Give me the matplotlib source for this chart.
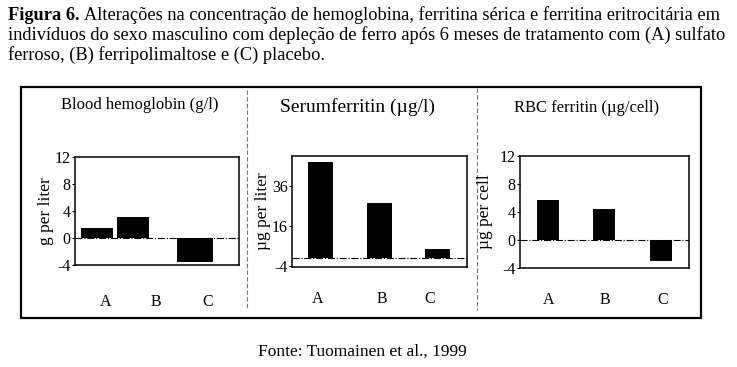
import matplotlib.pyplot as plt
from matplotlib.patches import Rectangle
from matplotlib.lines import Line2D

# data
groups = ['A', 'B', 'C']
hemoglobin = [1.5, 3.1, -3.6]        # g/l
serum_ferritin = [48, 27.5, 4.5]     # ug/l
rbc_ferritin = [5.7, 4.4, -3.0]      # ug/cell

titles = ['Blood hemoglobin (g/l)', 'Serumferritin (µg/l)', 'RBC ferritin (µg/cell)']
ylabels = ['g per liter', 'µg per liter', 'µg per cell']
yticks = [[-4, 0, 4, 8, 12], [-4, 16, 36], [-4, 0, 4, 8, 12]]
ylims = [(-4, 12), (-4.5, 51), (-4, 12)]

caption = ['Alterações na concentração de hemoglobina, ferritina sérica e ferritina eritrocitária em',
           'indivíduos do sexo masculino com depleção de ferro após 6 meses de tratamento com (A) sulfato',
           'ferroso, (B) ferripolimaltose e (C) placebo.']
source = 'Fonte: Tuomainen et al., 1999'

W, H = 737, 367
SERIF = 'Liberation Serif'

def rect(l, t, r, b):
    return [l / W, 1 - b / H, (r - l) / W, (b - t) / H]

fig = plt.figure(figsize=(W / 100, H / 100), dpi=100)
fig.patch.set_facecolor('white')

# caption
renderer = fig.canvas.get_renderer()
capsize = 13.2
lab = fig.text(8 / W, 1 - 15 / H, 'Figura 6.', fontsize=capsize, family=SERIF,
               weight='bold', va='center', ha='left')
bb = lab.get_window_extent(renderer)
fig.text((bb.x1 + 5) / W, 1 - 15 / H, caption[0], fontsize=capsize, family=SERIF,
         va='center', ha='left')
fig.text(8 / W, 1 - 35 / H, caption[1], fontsize=capsize, family=SERIF, va='center', ha='left')
fig.text(8 / W, 1 - 55 / H, caption[2], fontsize=capsize, family=SERIF, va='center', ha='left')

# outer frame and separators
fig.add_artist(Rectangle((21 / W, 1 - 318 / H), 680 / W, 231 / H, transform=fig.transFigure,
                         fill=False, lw=1.6, ec='black'))
for xs, y0 in [(247, 90), (477, 88)]:
    fig.add_artist(Line2D([xs / W, xs / W], [1 - y0 / H, 1 - 310 / H], transform=fig.transFigure,
                          color='#777777', lw=0.8, ls=(0, (4, 2))))

# layout of each panel (pixels)
boxes = [(75, 157, 239, 265), (292, 156, 467, 267), (520, 156, 689, 268)]
bar_x = [[0.134, 0.354, 0.732], [0.163, 0.5, 0.831], [0.166, 0.497, 0.834]]
bar_w = [[0.195, 0.195, 0.22], [0.143, 0.143, 0.143], [0.13, 0.13, 0.13]]
label_x = [[0.189, 0.494, 0.811], [0.149, 0.514, 0.789], [0.172, 0.503, 0.846]]
label_pad = [21, 17, 17]
title_pos = [(140, 105), (358, 107), (587, 108)]
title_size = [12, 14, 12]
ylabel_x = [46, 263, 485]

series = [hemoglobin, serum_ferritin, rbc_ferritin]
for i in range(3):
    ax = fig.add_axes(rect(*boxes[i]))
    ax.bar(bar_x[i], series[i], width=bar_w[i], color='black')
    ax.axhline(0, color='black', lw=0.8, ls='-.')
    ax.set_xlim(0, 1)
    ax.set_ylim(*ylims[i])
    ax.set_yticks(yticks[i])
    ax.set_yticklabels([str(v) for v in yticks[i]], family=SERIF, fontsize=11.5)
    ax.set_xticks(label_x[i])
    ax.set_xticklabels(groups, family=SERIF, fontsize=11.5)
    ax.tick_params(axis='x', length=0, pad=label_pad[i])
    ax.tick_params(axis='y', length=2, pad=1)
    for s in ax.spines.values():
        s.set_linewidth(1.1)
    tx, ty = title_pos[i]
    fig.text(tx / W, 1 - ty / H, titles[i], family=SERIF, fontsize=title_size[i],
             ha='center', va='center')
    fig.text(ylabel_x[i] / W, 1 - ((boxes[i][1] + boxes[i][3]) / 2) / H, ylabels[i],
             family=SERIF, fontsize=12.5, rotation=90, ha='center', va='center')

fig.text(362 / W, 1 - 352 / H, source, family=SERIF, fontsize=12.5, ha='center', va='center')

fig.savefig('out.png', dpi=100, facecolor='white')
